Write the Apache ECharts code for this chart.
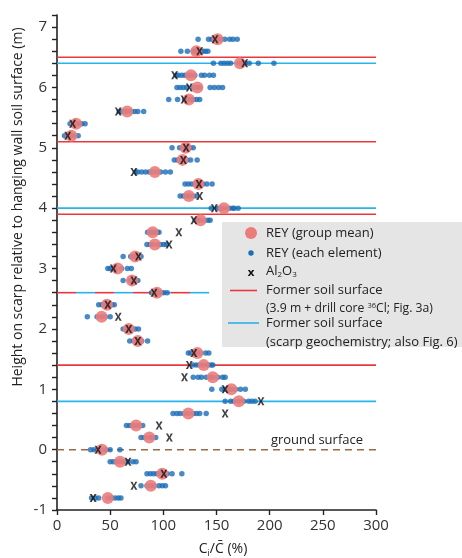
<!DOCTYPE html>
<html>
<head>
<meta charset="utf-8">
<script src="https://cdn.jsdelivr.net/npm/echarts@6/dist/echarts.min.js"></script>
<style>
html,body{margin:0;padding:0;background:#fff;}
#chart{width:462px;height:558px;}
</style>
</head>
<body>
<div id="chart"></div>
<script>
// ---- data ----
const heights = [6.8, 6.6, 6.4, 6.2, 6.0, 5.8, 5.6, 5.4, 5.2, 5.0, 4.8, 4.6, 4.4, 4.2, 4.0, 3.8, 3.6, 3.4, 3.2, 3.0,
  2.8, 2.6, 2.4, 2.2, 2.0, 1.8, 1.6, 1.4, 1.2, 1.0, 0.8, 0.6, 0.4, 0.2, 0, -0.2, -0.4, -0.6, -0.8];

const groupMean = [151, 131, 172, 126, 132, 124, 66, 18, 13.5, 121, 118, 92, 133, 124, 157, 135, 90, 92, 73.5, 57,
  70.5, 94, 47, 42, 67.5, 76, 132, 138, 146.5, 164, 171, 123.5, 74.4, 86.8, 42.3, 59.2, 99, 88.2, 47.8];

const al2o3 = [148.6, 134.2, 176.5, 110.6, 124.4, 119.5, 57.6, 14.7, 10.1, 121.4, 118.9, 72.3, 133.6, 134.2, 148, 128.7, 114.6, 105.4, 76.6, 53,
  72.3, 91.3, 47.8, 57.6, 67.5, 76, 128.7, 124.4, 119.9, 158.1, 191.8, 158.1, 96, 105.7, 38.6, 66.8, 100.5, 72.3, 34];

const elementValues = [
  [132.7, 142.5, 145.6, 148, 151.7, 154, 157.8, 162.4, 165.5, 169.5],
  [116.5, 122.6, 128.1, 130, 131.8, 134.8, 137.3, 139.7, 141.9],
  [147.1, 154.1, 157.2, 160.3, 163.3, 171, 174, 177.1, 180.8, 189.3, 204],
  [112, 114.3, 117.4, 120.4, 123.5, 126, 129.6, 135.8, 138.8, 143.4, 147.1],
  [112.8, 115.8, 118.9, 122, 128.1, 131.8, 134.2, 144, 148, 152, 155.7],
  [105.1, 113.4, 120, 122, 126, 128.1, 131.2, 134.2],
  [58.5, 60.7, 63.8, 66, 69.9, 73, 76, 81.5],
  [12.3, 15, 17.8, 20.9, 23.3, 26.4],
  [7.1, 11.7, 13.5, 16.3, 19.9],
  [108.2, 115.3, 118.3, 121.4, 123, 125, 128.1],
  [110.3, 113.4, 116.5, 118.3, 122, 125.6, 131.8],
  [74, 76, 79.7, 83.4, 86.8, 90, 94, 97.4, 102, 106.6],
  [120.4, 123.5, 126.6, 129.6, 132, 133.6, 137.3, 141, 145.9],
  [115.8, 118.9, 122, 124.4, 128.1, 131.2],
  [145, 151.1, 154.1, 157.2, 161.8, 164.9, 166.7, 170.4],
  [130, 132.7, 135, 138.8, 141.9, 144],
  [85.2, 87.7, 89.8, 91.9, 94.4, 95.9],
  [84.6, 87.7, 90, 94.4, 97.4, 100.5, 102.9],
  [62.2, 69.3, 71.4, 73.5, 76.6, 79],
  [47.8, 50, 53, 55, 60.7, 66.2, 69.9],
  [62.2, 68.4, 70.5, 72.3, 76],
  [88.9, 93.8, 95.9, 98, 100.5, 103.6],
  [39.2, 42.3, 45.4, 47.8, 51.5, 53.9],
  [28.5, 37.7, 41.7, 45.4, 50],
  [62.2, 65.3, 67.5, 70.5, 73.5, 76.6],
  [68.4, 72.3, 76, 79.7, 85.2],
  [123.5, 125.6, 128.7, 132.1, 134.8, 139.7, 142.8],
  [128.1, 131.2, 134.2, 137.9, 141.9, 144.9, 146.5],
  [128.1, 132.7, 135.8, 140.3, 144, 146.5, 151.1, 155.7, 158.1],
  [145.6, 155, 158.1, 161.8, 164.2, 167.9, 172.5, 177.1],
  [158.1, 163.3, 166.4, 171, 175.6, 180.2, 183.3, 186.3],
  [109.1, 112.8, 115.8, 119.5, 123.5, 128.1, 131.2, 134.2, 140.3],
  [65.3, 68.4, 71.4, 74.4, 77.6, 80.6],
  [79, 82.2, 86.8, 89.8, 92.8],
  [31.6, 34.7, 38.6, 42.3, 46, 50, 59.2],
  [50, 53, 56.1, 59.2, 63.1, 66.8, 71.4, 74.4],
  [84.6, 87.7, 90.7, 93.8, 97, 100.5, 103.6, 108.2, 117.4],
  [79, 84.6, 88.2, 91.3, 95.9, 99, 102],
  [32.5, 36.2, 39.2, 47.8, 51.5, 54.6, 57.6, 60.1]
];

const redLines = [6.5, 5.1, 3.9, 1.4];          // former soil surface (3.9 m + drill core 36Cl)
const cyanLines = [6.4, 4.0, 0.8];              // former soil surface (scarp geochemistry)
const sharedLine = { height: 2.6, xEnd: 143 };  // both criteria agree (partial line)
const groundLevel = 0;
const xTicks = [0, 300, 50];   // min, max, interval
const yTicks = [-1, 7.2, 0.2]; // min, max, interval

// ---- styling ----
const FONT = 'Open Sans';
const RED = '#e8383d';
const CYAN = '#27b4ea';
const BLUE = '#1a6db6';
const PINK = '#ec7c7a';
const BROWN = '#9a6a43';
const XPATH = 'path://M0,0 L3,0 L5,3.6 L7,0 L10,0 L6.5,5 L10,10 L7,10 L5,6.4 L3,10 L0,10 L3.5,5 Z';

const elemData = [];
elementValues.forEach((row, i) => row.forEach(v => elemData.push([v, heights[i]])));
const meanData = groupMean.map((v, i) => [v, heights[i]]);
const alData = al2o3.map((v, i) => [v, heights[i]]);

function hLine(h, color, x1, extra) {
  return Object.assign({
    type: 'line', data: [[xTicks[0], h], [x1, h]], symbol: 'none', silent: true, z: 1,
    lineStyle: { color: color, width: 1.6 }, animation: false
  }, extra || {});
}

const series = [];
redLines.forEach(h => series.push(hLine(h, RED, xTicks[1])));
cyanLines.forEach(h => series.push(hLine(h, CYAN, xTicks[1])));
series.push(hLine(sharedLine.height, RED, sharedLine.xEnd, { lineStyle: { color: RED, width: 1.6, type: [19, 19], dashOffset: 0 } }));
series.push(hLine(sharedLine.height, CYAN, sharedLine.xEnd, { lineStyle: { color: CYAN, width: 1.6, type: [19, 19], dashOffset: 19 } }));
series.push(hLine(groundLevel, BROWN, xTicks[1], { lineStyle: { color: BROWN, width: 1.5, type: [7, 5] } }));

series.push({ type: 'scatter', data: elemData, symbol: 'circle', symbolSize: 5.5,
  itemStyle: { color: BLUE }, z: 3, animation: false });
series.push({ type: 'scatter', data: meanData, symbol: 'circle', symbolSize: 12,
  itemStyle: { color: PINK, opacity: 0.9 }, z: 4, animation: false });
series.push({ type: 'scatter', data: alData, symbol: XPATH, symbolSize: [7, 8],
  itemStyle: { color: '#111' }, z: 5, animation: false });

const chart = echarts.init(document.getElementById('chart'), null, { renderer: 'canvas' });
chart.setOption({
  backgroundColor: '#fff',
  animation: false,
  textStyle: { fontFamily: FONT },
  grid: { left: 57, right: 86, top: 15, bottom: 48, containLabel: false },
  xAxis: {
    type: 'value', min: xTicks[0], max: xTicks[1], interval: xTicks[2],
    axisLine: { onZero: false, lineStyle: { color: '#222', width: 1.6 } },
    axisTick: { show: true, length: 5, lineStyle: { color: '#222', width: 1.4 } },
    axisLabel: { color: '#333', fontSize: 15, fontFamily: FONT, margin: 8 },
    splitLine: { show: false }
  },
  yAxis: {
    type: 'value', min: yTicks[0], max: yTicks[1], interval: yTicks[2],
    axisLine: { onZero: false, lineStyle: { color: '#222', width: 1.6 } },
    axisTick: { show: true, length: 5, lineStyle: { color: '#222', width: 1.4 } },
    axisLabel: { color: '#333', fontSize: 15, fontFamily: FONT, margin: 10,
      formatter: v => (Math.abs(v - Math.round(v)) < 1e-6 && v < 7.1) ? String(Math.round(v)) : '' },
    splitLine: { show: false }
  },
  series: series,
  graphic: [
    { type: 'text', x: 18, y: 207, rotation: Math.PI / 2,
      style: { text: 'Height on scarp relative to hanging wall soil surface (m)', fontFamily: FONT, fontSize: 14,
        fill: '#222', align: 'center', verticalAlign: 'middle' } },
    { type: 'text', x: 223, y: 549,
      style: { text: 'C{s|i}/C\u0304 (%)', fontFamily: FONT, fontSize: 14, fill: '#222', align: 'center', verticalAlign: 'middle',
        rich: { s: { fontSize: 9, verticalAlign: 'bottom', padding: [8, 0, 0, 0], fontFamily: FONT } } } },
    { type: 'text', x: 363, y: 440,
      style: { text: 'ground surface', fontFamily: FONT, fontSize: 13, fill: '#222', align: 'right', verticalAlign: 'middle' } },
    // legend
    { type: 'rect', shape: { x: 222, y: 222, width: 240, height: 125 }, style: { fill: '#e5e5e5' }, z: 10 },
    { type: 'circle', shape: { cx: 251, cy: 233, r: 6 }, style: { fill: PINK }, z: 11 },
    { type: 'circle', shape: { cx: 251, cy: 253, r: 2.7 }, style: { fill: BLUE }, z: 11 },
    { type: 'text', x: 251, y: 273, style: { text: 'x', fontFamily: 'DejaVu Sans', fontWeight: 'bold', fontSize: 11, fill: '#111', align: 'center', verticalAlign: 'middle' }, z: 11 },
    { type: 'line', shape: { x1: 230, y1: 290.5, x2: 257, y2: 290.5 }, style: { stroke: RED, lineWidth: 1.6 }, z: 11 },
    { type: 'line', shape: { x1: 228, y1: 323, x2: 259, y2: 323 }, style: { stroke: CYAN, lineWidth: 1.6 }, z: 11 },
    { type: 'text', x: 266, y: 233, style: { text: 'REY (group mean)', fontFamily: FONT, fontSize: 13, fill: '#222', verticalAlign: 'middle' }, z: 11 },
    { type: 'text', x: 266, y: 253, style: { text: 'REY (each element)', fontFamily: FONT, fontSize: 13, fill: '#222', verticalAlign: 'middle' }, z: 11 },
    { type: 'text', x: 266, y: 271, style: { text: 'Al{s|2}O{s|3}', fontFamily: FONT, fontSize: 13, fill: '#222', verticalAlign: 'middle',
        rich: { s: { fontSize: 8, fontFamily: FONT, padding: [7, 0, 0, 0] } } }, z: 11 },
    { type: 'text', x: 266, y: 290, style: { text: 'Former soil surface', fontFamily: FONT, fontSize: 13, fill: '#222', verticalAlign: 'middle' }, z: 11 },
    { type: 'text', x: 266, y: 309, style: { text: '(3.9 m + drill core {p|36}Cl; Fig. 3a)', fontFamily: FONT, fontSize: 12.2, fill: '#222', verticalAlign: 'middle',
        rich: { p: { fontSize: 7.5, fontFamily: FONT, padding: [0, 0, 6, 0] } } }, z: 11 },
    { type: 'text', x: 266, y: 323, style: { text: 'Former soil surface', fontFamily: FONT, fontSize: 13, fill: '#222', verticalAlign: 'middle' }, z: 11 },
    { type: 'text', x: 266, y: 342, style: { text: '(scarp geochemistry; also Fig. 6)', fontFamily: FONT, fontSize: 13, fill: '#222', verticalAlign: 'middle' }, z: 11 }
  ]
});
</script>
</body>
</html>
